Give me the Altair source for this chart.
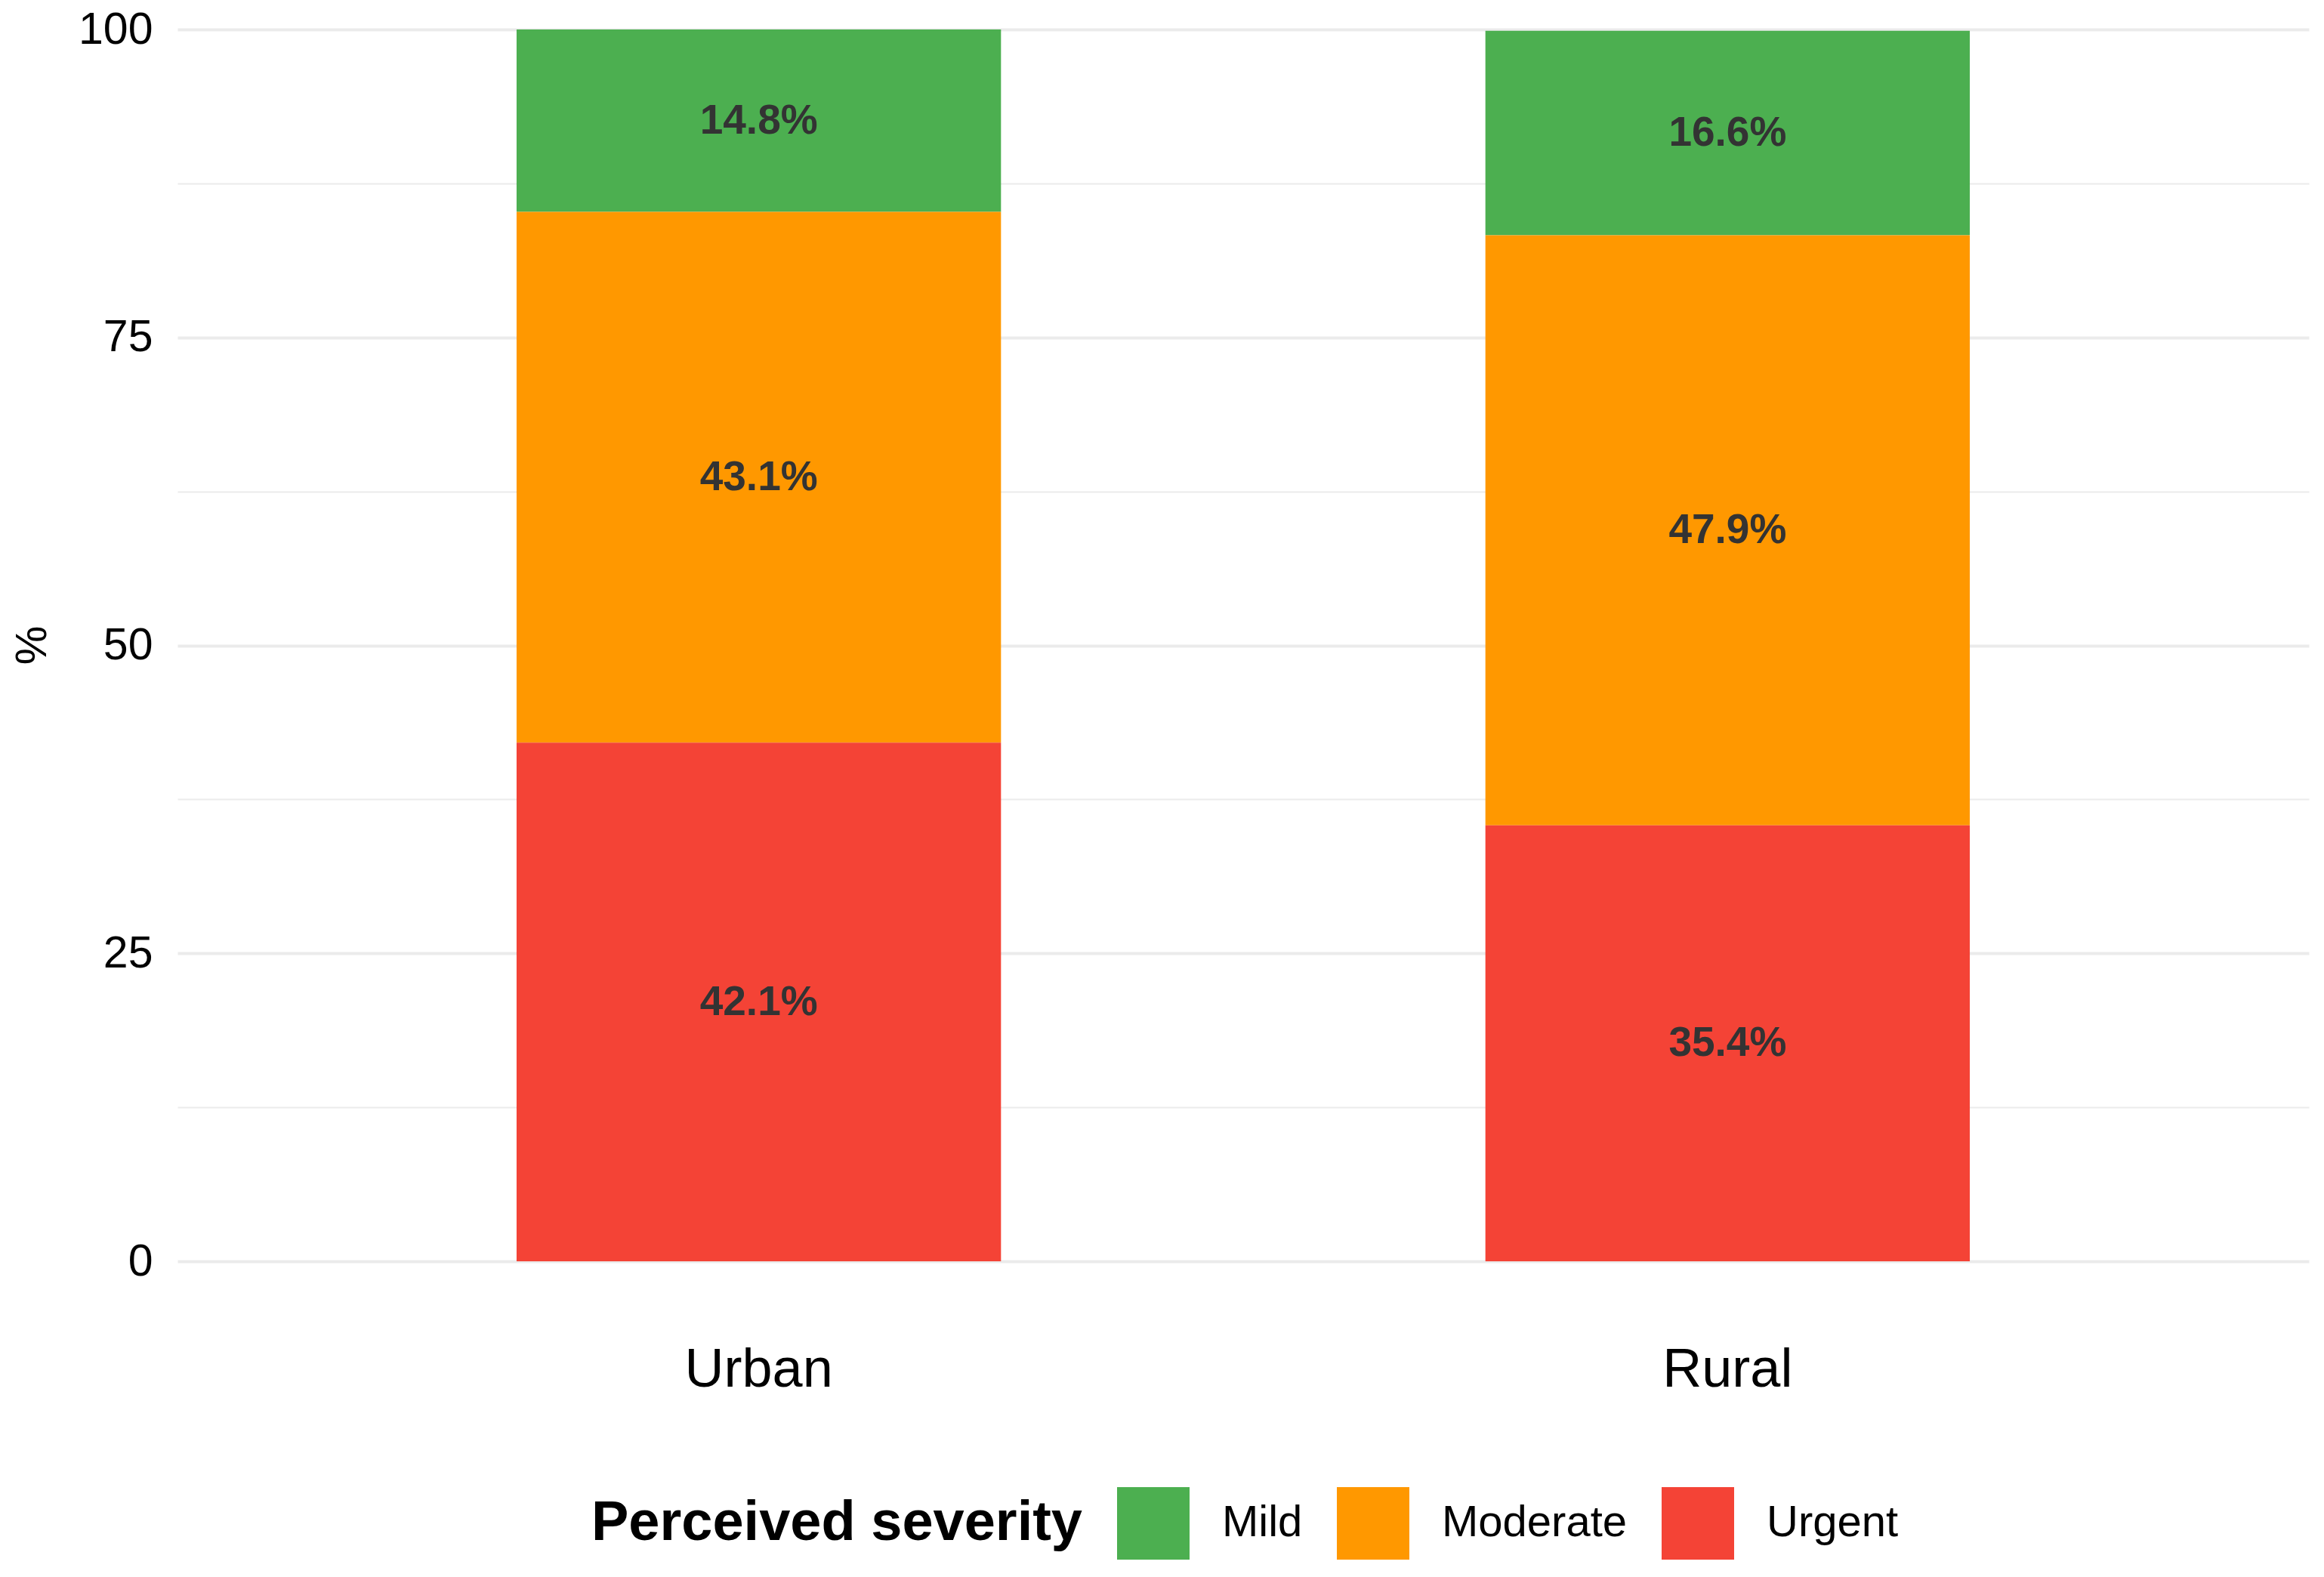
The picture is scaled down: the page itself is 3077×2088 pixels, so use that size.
import altair as alt
import pandas as pd

areas = ["Urban", "Rural"]
severities = ["Mild", "Moderate", "Urgent"]
stack_rank = [2, 1, 0]
urban_pct = [14.8, 43.1, 42.1]
rural_pct = [16.6, 47.9, 35.4]
colors = ["#4CAF50", "#FF9800", "#F44336"]
y_grid = [0, 12.5, 25, 37.5, 50, 62.5, 75, 87.5, 100]

rows = []
for area, vals in zip(areas, [urban_pct, rural_pct]):
    for sev, rank, v in zip(severities, stack_rank, vals):
        rows.append({"area": area, "severity": sev, "rank": rank, "pct": v})
df = pd.DataFrame(rows)

FONT = "Liberation Sans"

base = alt.Chart(df).transform_stack(
    stack="pct", groupby=["area"], as_=["y0", "y1"],
    sort=[alt.SortField("rank", order="ascending")]
).transform_calculate(
    mid="(datum.y0 + datum.y1) / 2",
    lab="format(datum.pct, '.1f') + '%'"
)

x_enc = alt.X(
    "area:N", sort=areas, title=None,
    scale=alt.Scale(paddingInner=0.5, paddingOuter=0.35),
    axis=alt.Axis(labelAngle=0, labelFontSize=72, labelPadding=108, ticks=False, tickSize=0,
                  domain=False, grid=False, labelColor="black", labelFont=FONT, labelLimit=0),
)

y_enc = alt.Y(
    "y0:Q", title="%",
    scale=alt.Scale(domain=[0, 100], nice=False),
    axis=alt.Axis(
        values=y_grid,
        labelExpr="datum.value % 25 === 0 ? format(datum.value, 'd') : ''",
        gridWidth={"condition": {"test": "datum.value % 25 === 0", "value": 4}, "value": 2},
        gridColor="#EBEBEB",
        ticks=False, tickSize=0, domain=False, labelFlush=False,
        labelFontSize=59, labelPadding=33, labelColor="black", labelFont=FONT, labelLimit=0,
        titleFontSize=58, titleFontWeight="normal", titleFont=FONT, titleColor="black",
        titleAngle=270, titleX=-192, titleY=815, titleBaseline="middle", titleAlign="center",
    ),
)

bars = base.mark_bar().encode(
    x=x_enc,
    y=y_enc,
    y2="y1:Q",
    color=alt.Color(
        "severity:N",
        scale=alt.Scale(domain=severities, range=colors),
        legend=alt.Legend(
            orient="none", legendX=548, legendY=1930, direction="horizontal",
            title="Perceived severity", titleOrient="left",
            titleFontSize=74, titleFontWeight="bold", titleFont=FONT, titleColor="black",
            titleAnchor="middle", titleBaseline="middle", titlePadding=45, titleLimit=0,
            labelFontSize=58, labelFont=FONT, labelColor="black", labelOffset=43, labelLimit=0,
            columnPadding=45, symbolType="square", symbolSize=9216,
            symbolStrokeWidth=0, symbolOpacity=1,
        ),
    ),
)

text = base.mark_text(
    fontSize=55, fontWeight="bold", color="#333333", font=FONT, baseline="middle"
).encode(
    x=alt.X("area:N", sort=areas),
    y=alt.Y("mid:Q"),
    text="lab:N",
)

chart = alt.layer(bars, text).properties(
    width=2822, height=1631,
    autosize=alt.AutoSizeParams(type="none"),
    padding={"left": 227, "top": 31, "right": 12, "bottom": 410},
).configure_view(stroke=None)

chart.save("out.html", embed_options={"renderer": "svg", "actions": False})
